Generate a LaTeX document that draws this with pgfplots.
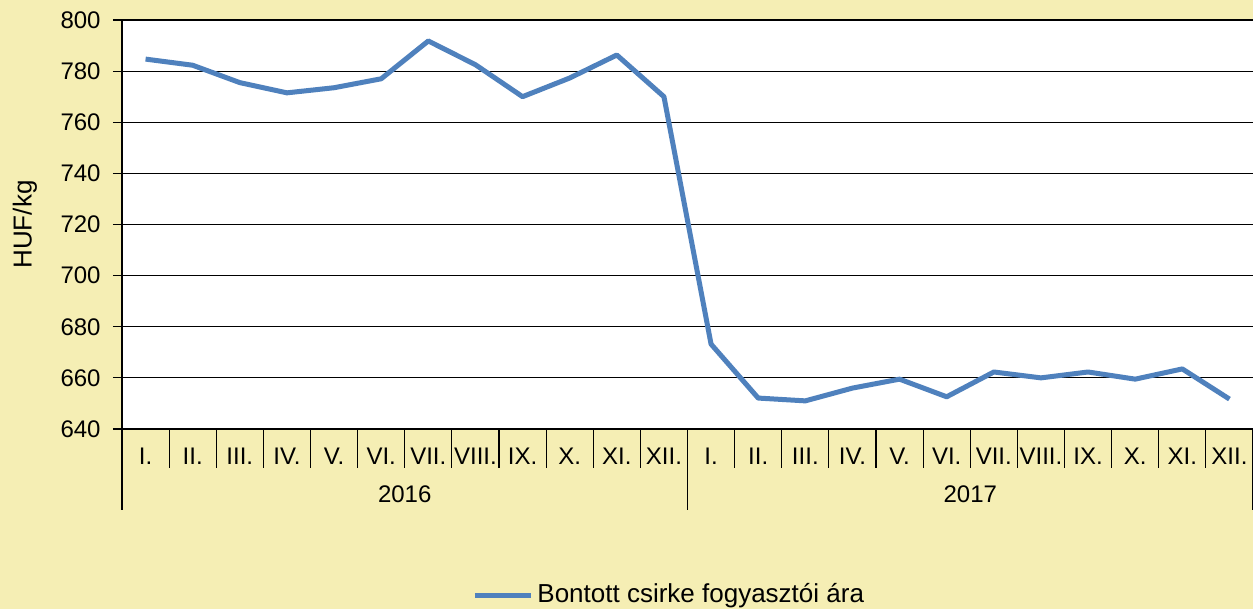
\documentclass[border=0pt]{standalone}
\usepackage{fontspec}
\setmainfont{Liberation Sans}
\usepackage{pgfplots}
\pgfplotsset{compat=1.18}
\definecolor{bg}{RGB}{245,238,180}
\definecolor{ln}{RGB}{79,129,189}
\begin{document}
\fontsize{12}{14}\selectfont
\begin{tikzpicture}
\fill[bg] (0,0) rectangle (626.5pt,304.5pt);
\begin{axis}[
  at={(61pt,90pt)}, anchor=south west, scale only axis,
  width=565.5pt, height=204.5pt,
  xmin=0, xmax=24, ymin=640, ymax=800,
  ytick={640,660,...,800},
  ymajorgrids, grid style={black, line width=0.6pt},
  axis x line*=bottom, axis y line*=left,
  axis line style={black, line width=0.6pt},
  axis background/.style={fill=white},
  tick align=outside, major tick length=4.5pt,
  ytick style={black, line width=0.6pt},
  xtick={0.5,1.5,...,23.5},
  xticklabels={I.,II.,III.,IV.,V.,VI.,VII.,VIII.,IX.,X.,XI.,XII.,I.,II.,III.,IV.,V.,VI.,VII.,VIII.,IX.,X.,XI.,XII.},
  xtick style={draw=none},
  xticklabel style={anchor=center, yshift=-9pt},
  yticklabel style={xshift=-2pt},
  /pgf/number format/assume math mode=true,
  ticklabel style={font=\fontsize{12}{14}\selectfont},
  ylabel={HUF/kg},
  ylabel style={at={(axis description cs:-0.0858,0.5)}, anchor=center, font=\fontsize{13}{15}\selectfont},
  clip=false,
  legend style={at={(0.3095,-0.406)}, anchor=west, draw=none, fill=none, font=\fontsize{13}{15}\selectfont, inner sep=0pt},
  legend image code/.code={\draw[#1] (0pt,0pt) -- (28pt,0pt);},
]
\addplot[ln, line width=2.5pt, line join=round] coordinates {
(0.5,784.7) (1.5,782.3) (2.5,775.5) (3.5,771.5) (4.5,773.5) (5.5,777)
(6.5,791.8) (7.5,782.5) (8.5,770) (9.5,777.3) (10.5,786.3) (11.5,770)
(12.5,673.2) (13.5,652.1) (14.5,651) (15.5,656) (16.5,659.5) (17.5,652.6)
(18.5,662.3) (19.5,660) (20.5,662.3) (21.5,659.5) (22.5,663.5) (23.5,651.7)
};
\addlegendentry{Bontott csirke fogyasztói ára}
\pgfplotsinvokeforeach{1,...,23}{
  \draw[black, line width=0.6pt] (axis cs:#1,640) -- ([yshift=-19.5pt]axis cs:#1,640);
}
\draw[black, line width=0.6pt] (axis cs:0,640) -- ([yshift=-40.5pt]axis cs:0,640);
\draw[black, line width=0.6pt] (axis cs:12,640) -- ([yshift=-40.5pt]axis cs:12,640);
\draw[black, line width=0.6pt] (axis cs:24,640) -- ([yshift=-40.5pt]axis cs:24,640);
\node[font=\fontsize{12}{14}\selectfont] at ([yshift=-32.5pt]axis cs:6,640) {2016};
\node[font=\fontsize{12}{14}\selectfont] at ([yshift=-32.5pt]axis cs:18,640) {2017};
\end{axis}
\pgfresetboundingbox
\path[use as bounding box] (0,0) rectangle (626.5pt,304.5pt);
\end{tikzpicture}
\end{document}
